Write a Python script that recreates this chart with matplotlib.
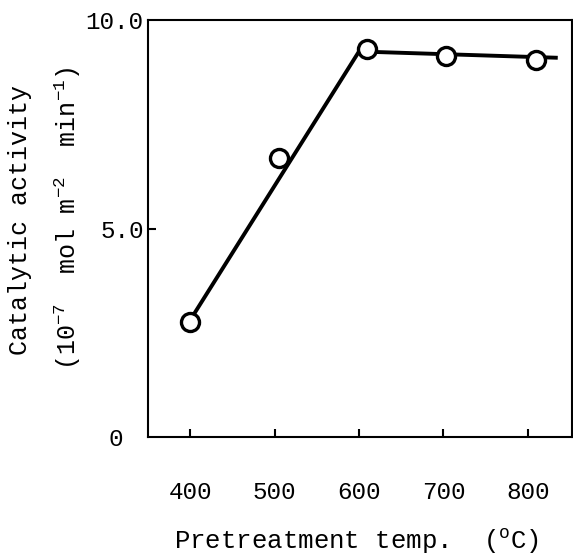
import matplotlib.pyplot as plt

# measured points
temp = [400, 505, 610, 703, 810]
activity = [2.75, 6.7, 9.3, 9.15, 9.05]

# drawn trend line
line_x = [400, 600, 833]
line_y = [2.8, 9.25, 9.1]

xticks = [400, 500, 600, 700, 800]
yticks = [0, 5, 10]
ytick_labels = ['0', '5.0', '10.0']

font = 'Liberation Mono'
plt.rcParams['font.family'] = [font, 'DejaVu Sans']
plt.rcParams['mathtext.fontset'] = 'custom'
plt.rcParams['mathtext.rm'] = font

fig = plt.figure(figsize=(5.73, 5.55), dpi=100)
ax = fig.add_axes([0.258, 0.2126, 0.74, 0.751])

ax.plot(line_x, line_y, color='black', lw=2.8, zorder=2)
ax.plot(temp, activity, 'o', ms=13, mfc='white', mec='black', mew=2.4, zorder=3)

ax.set_xlim(350, 852)
ax.set_ylim(0, 10)
ax.set_xticks(xticks)
ax.set_xticklabels([str(t) for t in xticks])
ax.set_yticks(yticks)
ax.set_yticklabels(ytick_labels)
ax.tick_params(axis='both', direction='in', length=6, width=1.5, labelsize=17.5)
ax.tick_params(axis='x', pad=32)
ax.tick_params(axis='y', pad=3)
ax.yaxis.get_major_ticks()[0].tick1line.set_visible(False)
ax.yaxis.get_major_ticks()[0].set_pad(18)
ax.yaxis.get_major_ticks()[2].tick1line.set_visible(False)

for s in ax.spines.values():
    s.set_linewidth(1.5)

fig.text(356 / 573, 1 - 549 / 555, 'Pretreatment temp.  ($^{\\rm o}$C)', ha='center', va='baseline', fontsize=18.5)
fig.text(20 / 573, 1 - 220 / 555, 'Catalytic activity', rotation=90, ha='center', va='center', fontsize=18)
fig.text(68 / 573, 1 - 218 / 555, '(10$^{-7}$  mol m$^{-2}$  min$^{-1}$)', rotation=90, ha='center', va='center', fontsize=18)

fig.savefig('out.png', dpi=100)
